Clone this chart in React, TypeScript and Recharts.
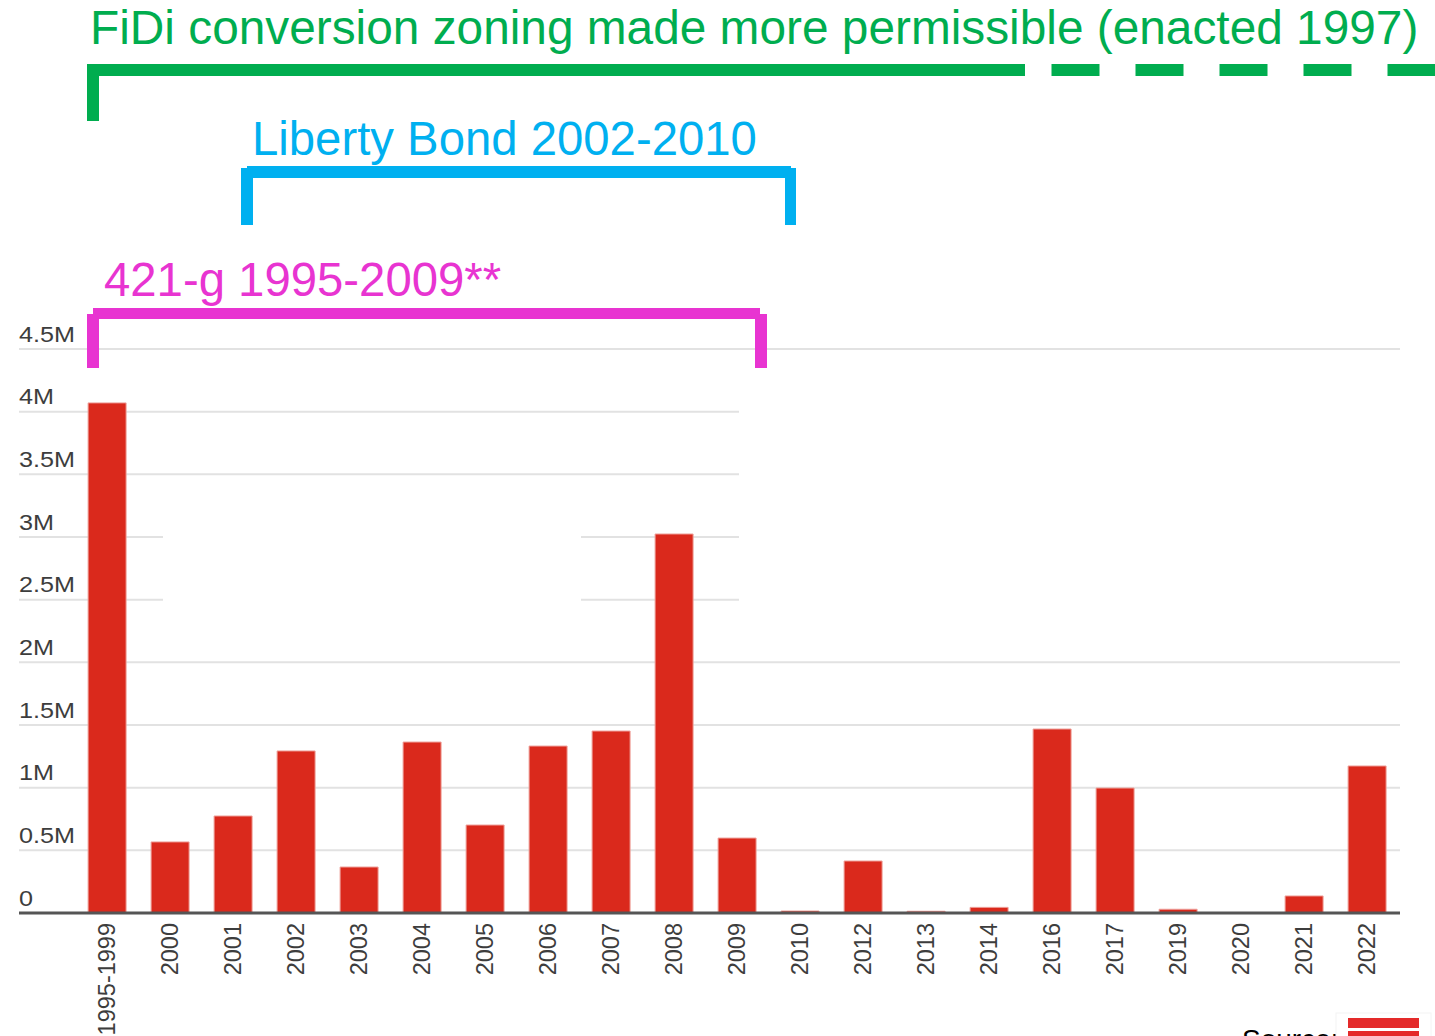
import React from 'react';
import { BarChart, Bar, XAxis, YAxis, CartesianGrid } from 'recharts';

// years on the x axis
const years = ['1995-1999', '2000', '2001', '2002', '2003', '2004', '2005', '2006', '2007', '2008', '2009',
    '2010', '2012', '2013', '2014', '2016', '2017', '2019', '2020', '2021', '2022'];

// square feet converted
const sqft = [4070000, 567000, 774000, 1293000, 367000, 1364000, 702000, 1332000, 1452000, 3024000, 598000,
    16000, 415000, 14000, 45000, 1468000, 997000, 30000, 0, 136000, 1173000];

const yTicks = [0, 500000, 1000000, 1500000, 2000000, 2500000, 3000000, 3500000, 4000000, 4500000];

const programs = [
    { label: 'FiDi conversion  zoning made more permissible (enacted 1997)', color: '#00ad4f' },
    { label: 'Liberty Bond 2002-2010', color: '#00b0f0' },
    { label: '421-g 1995-2009**', color: '#e834d1' },
];

const data = years.map((year, i) => ({ year, sqft: sqft[i] }));

const FONT = '"Liberation Sans", Arial, sans-serif';

function fmt(v: number) {
    return v === 0 ? '0' : `${v / 1000000}M`;
}

function YTick(props: any) {
    const { y, payload } = props;
    return (
        <text transform={`translate(19, ${y - 7.5}) scale(1.12, 1)`} fontFamily={FONT} fontSize={22.5} fill="#3d3d3d" textAnchor="start">
            {fmt(payload.value)}
        </text>
    );
}

function XTick(props: any) {
    const { x, y, payload } = props;
    return (
        <text transform={`translate(${x + 8}, ${y}) rotate(-90)`} fontFamily={FONT} fontSize={23.5} fill="#3d3d3d" textAnchor="end">
            {payload.value}
        </text>
    );
}

export default function App() {
    const [green, blue, pink] = programs;
    return (
        <div style={{ position: 'absolute', left: 0, top: 0, width: 1435, height: 1036, overflow: 'hidden', background: '#fff' }}>
            <BarChart width={1435} height={1036} data={data} margin={{ top: 349, right: 35, bottom: 0, left: 0 }} barCategoryGap="20%">
                <CartesianGrid vertical={false} stroke="#e2e2e2" strokeWidth={2} />
                <XAxis dataKey="year" height={123} interval={0} padding={{ left: 56.5, right: 1.5 }}
                    axisLine={{ stroke: '#555', strokeWidth: 3 }} tickLine={false} tickSize={0} tickMargin={10} tick={<XTick />} />
                <YAxis width={19} domain={[0, 4500000]} ticks={yTicks} axisLine={false} tickLine={false} tick={<YTick />} />
                <Bar dataKey="sqft" fill="#da291c" stroke="#eea19b" strokeWidth={1} isAnimationActive={false} />
            </BarChart>

            {/* white patches hiding some gridlines, as in the original */}
            <div style={{ position: 'absolute', left: 739, top: 380, width: 670, height: 245, background: '#fff' }} />
            <div style={{ position: 'absolute', left: 163, top: 505, width: 418, height: 120, background: '#fff' }} />

            <svg width={1435} height={1036} style={{ position: 'absolute', left: 0, top: 0, pointerEvents: 'none' }}>
                <g fontFamily={FONT} style={{ whiteSpace: 'pre' }}>
                    <text x={90} y={44} fontSize={47.8} fill={green.color}>{green.label}</text>
                    <text x={252} y={155} fontSize={47.3} fill={blue.color}>{blue.label}</text>
                    <text x={104} y={296} fontSize={47.3} fill={pink.color}>{pink.label}</text>
                </g>
                {/* green bracket */}
                <rect x={87} y={64} width={938} height={12} fill={green.color} />
                <rect x={87} y={64} width={12} height={57} fill={green.color} />
                <line x1={1051.5} y1={70} x2={1440} y2={70} stroke={green.color} strokeWidth={12} strokeDasharray="48 36" />
                {/* blue bracket */}
                <rect x={247} y={166} width={544} height={12} fill={blue.color} />
                <rect x={241} y={168} width={12} height={57} fill={blue.color} />
                <rect x={785} y={168} width={11} height={57} fill={blue.color} />
                {/* pink bracket */}
                <rect x={93} y={308} width={667} height={11} fill={pink.color} />
                <rect x={87} y={314} width={12} height={54} fill={pink.color} />
                <rect x={755} y={314} width={12} height={54} fill={pink.color} />
                {/* source line, cut off at the bottom */}
                <text x={1242} y={1049} fontFamily={FONT} fontSize={28} fill="#000">Source:</text>
                <rect x={1336} y={1013} width={95} height={30} fill="#fff" stroke="#f4f4f4" />
                <rect x={1348} y={1018} width={71} height={10} fill="#e42a2a" />
                <rect x={1348} y={1031} width={71} height={8} fill="#e42a2a" />
            </svg>
        </div>
    );
}
